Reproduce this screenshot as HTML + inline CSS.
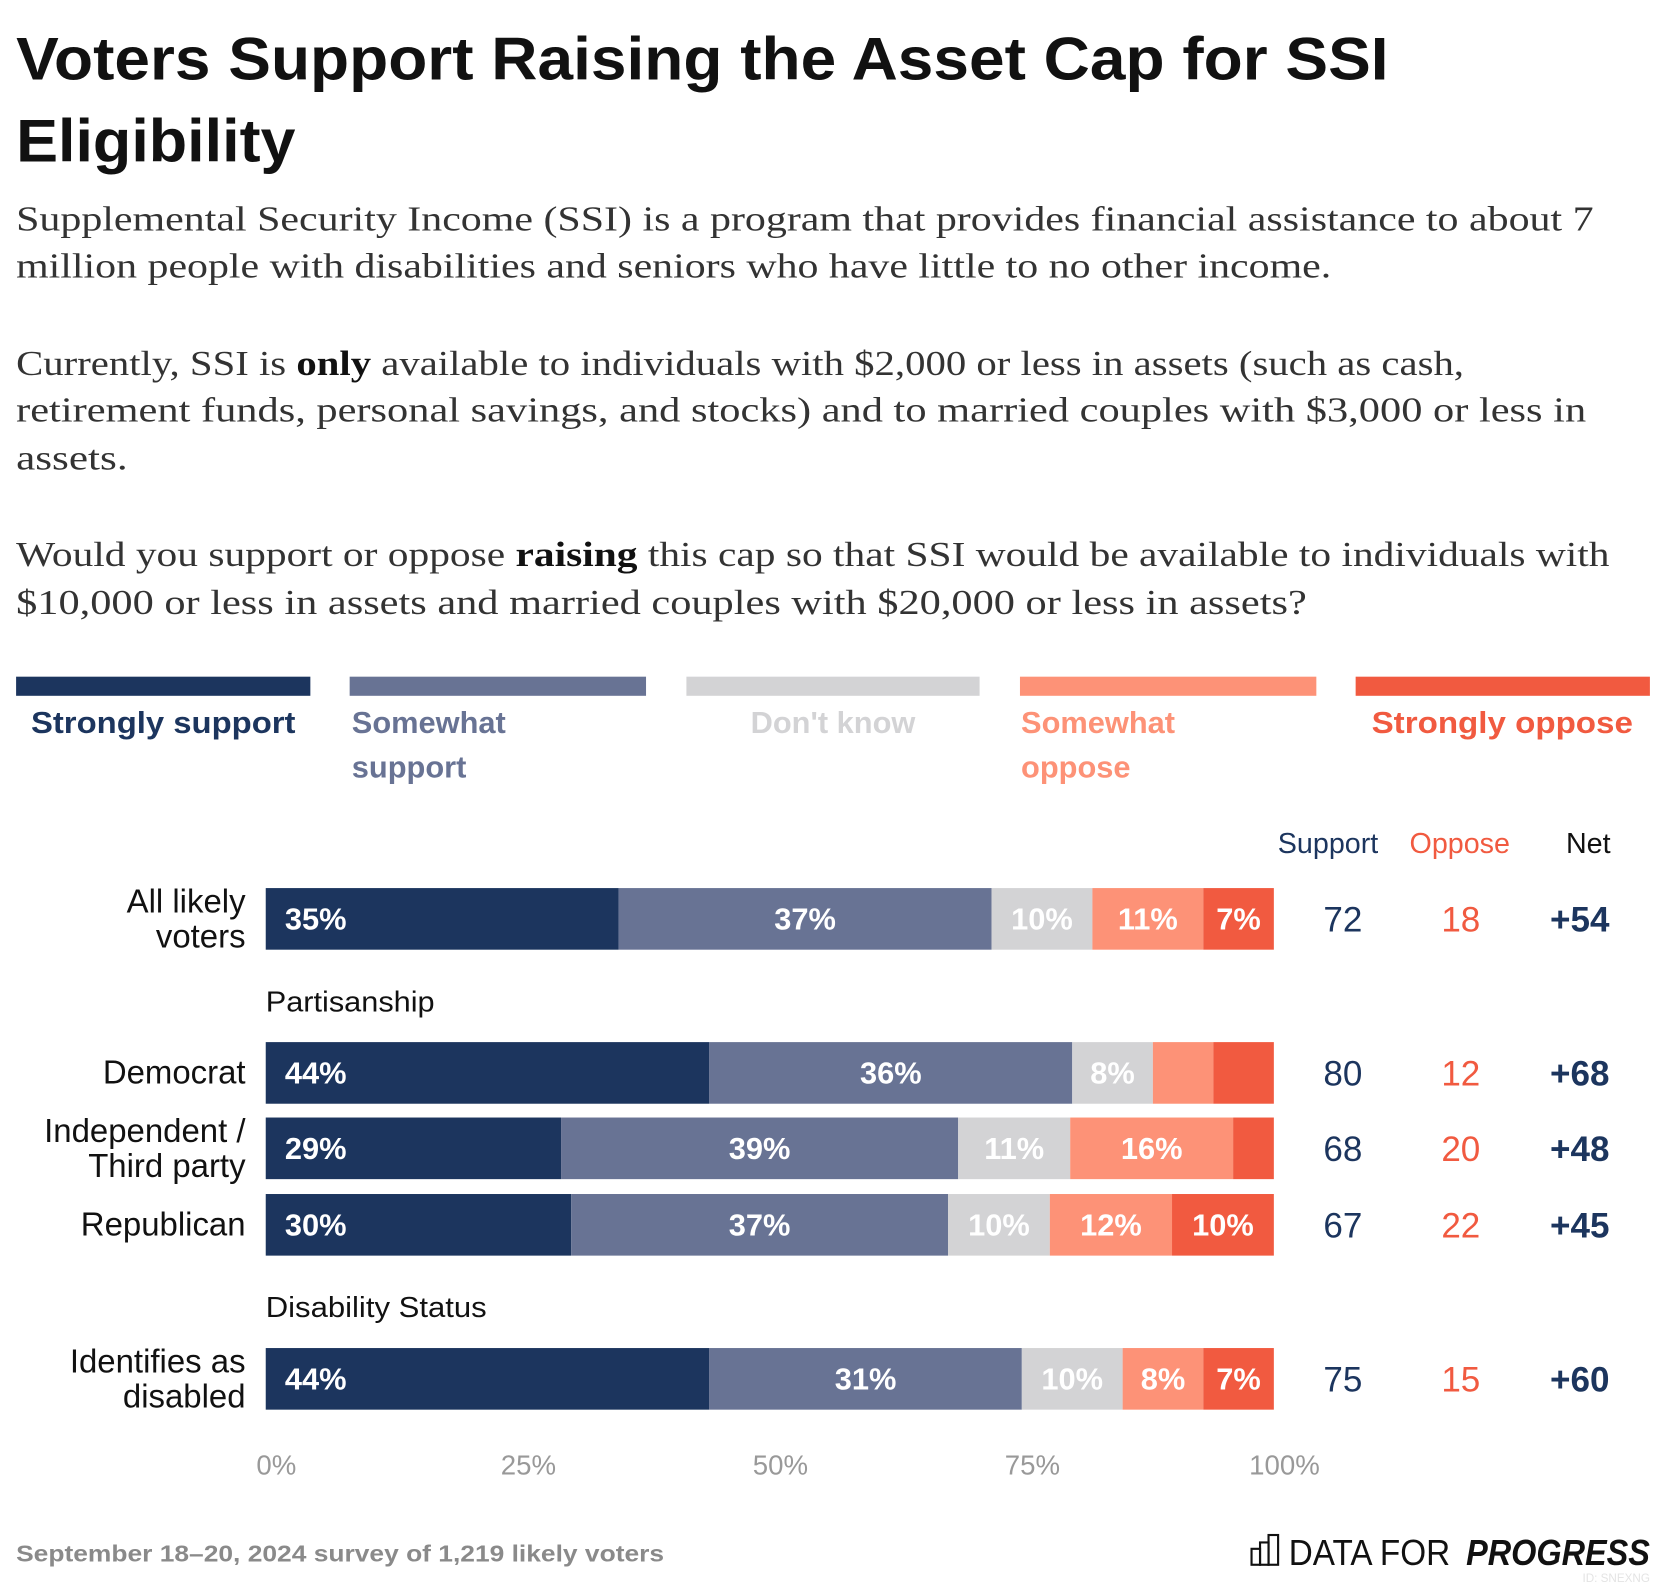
<!DOCTYPE html>
<html><head><meta charset="utf-8"><style>
html,body{margin:0;padding:0;background:#fff;}
svg{display:block;}
</style></head><body>
<svg width="1666" height="1586" viewBox="0 0 1568 1493" xmlns="http://www.w3.org/2000/svg" font-family="'Liberation Sans', sans-serif">
<rect width="1568" height="1493" fill="#fff"/>
<g font-weight="bold" font-size="57" fill="#111">
<text x="15" y="75" textLength="1292" lengthAdjust="spacingAndGlyphs">Voters Support Raising the Asset Cap for SSI</text>
<text x="15" y="152" textLength="263" lengthAdjust="spacingAndGlyphs">Eligibility</text>
</g>
<g font-family="'Liberation Serif', serif" font-size="33" fill="#333">
<text x="15" y="217" textLength="1485" lengthAdjust="spacingAndGlyphs">Supplemental Security Income (SSI) is a program that provides financial assistance to about 7</text>
<text x="15" y="261" textLength="1238" lengthAdjust="spacingAndGlyphs">million people with disabilities and seniors who have little to no other income.</text>
<text x="15" y="353" textLength="1363" lengthAdjust="spacingAndGlyphs">Currently, SSI is <tspan font-weight="bold" fill="#111">only</tspan> available to individuals with $2,000 or less in assets (such as cash,</text>
<text x="15" y="397" textLength="1478" lengthAdjust="spacingAndGlyphs">retirement funds, personal savings, and stocks) and to married couples with $3,000 or less in</text>
<text x="15" y="442" textLength="105" lengthAdjust="spacingAndGlyphs">assets.</text>
<text x="15" y="533" textLength="1500" lengthAdjust="spacingAndGlyphs">Would you support or oppose <tspan font-weight="bold" fill="#111">raising</tspan> this cap so that SSI would be available to individuals with</text>
<text x="15" y="578" textLength="1215" lengthAdjust="spacingAndGlyphs">$10,000 or less in assets and married couples with $20,000 or less in assets?</text>
</g>
<g font-weight="bold" font-size="29">
<rect x="15" y="637" width="277" height="18" fill="#1c355e"/>
<rect x="329" y="637" width="279" height="18" fill="#687394"/>
<rect x="646" y="637" width="276" height="18" fill="#d3d3d5"/>
<rect x="960" y="637" width="279" height="18" fill="#fd9277"/>
<rect x="1276" y="637" width="277" height="18" fill="#f15a40"/>
<text x="29" y="690" fill="#1c355e" textLength="249" lengthAdjust="spacingAndGlyphs">Strongly support</text>
<text x="331" y="690" fill="#687394"><tspan x="331">Somewhat</tspan><tspan x="331" dy="42">support</tspan></text>
<text x="784" y="690" text-anchor="middle" fill="#d3d3d5">Don't know</text>
<text x="961" y="690" fill="#fd9277"><tspan x="961">Somewhat</tspan><tspan x="961" dy="42">oppose</tspan></text>
<text x="1291" y="690" fill="#f15a40" textLength="246" lengthAdjust="spacingAndGlyphs">Strongly oppose</text>
</g>
<g font-size="27">
<text x="1250" y="803" text-anchor="middle" fill="#1c355e">Support</text>
<text x="1374" y="803" text-anchor="middle" fill="#f15a40">Oppose</text>
<text x="1495" y="803" text-anchor="middle" fill="#111">Net</text>
<text x="250" y="952" fill="#111" textLength="159" lengthAdjust="spacingAndGlyphs">Partisanship</text>
<text x="250" y="1240" fill="#111" textLength="208" lengthAdjust="spacingAndGlyphs">Disability Status</text>
</g>
<g id="bars"></g>
<g id="axis"></g>
<text x="15" y="1470" font-size="22" font-weight="bold" fill="#8a8a8a" textLength="610" lengthAdjust="spacingAndGlyphs">September 18–20, 2024 survey of 1,219 likely voters</text>
<g>
<g fill="none" stroke="#111" stroke-width="2">
<rect x="1178" y="1458" width="8" height="15"/><rect x="1186" y="1452" width="8" height="21"/><rect x="1194" y="1445" width="9" height="28"/>
</g>
<text x="1213" y="1473" font-size="34" fill="#111" textLength="152" lengthAdjust="spacingAndGlyphs">DATA FOR</text>
<text x="1380" y="1473" font-size="34" font-weight="bold" font-style="italic" fill="#111" textLength="173" lengthAdjust="spacingAndGlyphs">PROGRESS</text>
<text x="1553" y="1489" font-size="11" fill="#e4e4e4" text-anchor="end">ID: SNEXNG</text>
</g>
<script>
const rowLabels = [["All likely","voters"],["Democrat"],["Independent /","Third party"],["Republican"],["Identifies as","disabled"]];
const strongSupport = [35,44,29,30,44];
const someSupport = [37,36,39,37,31];
const dontKnow = [10,8,11,10,10];
const someOppose = [11,6,16,12,8];
const strongOppose = [7,6,4,10,7];
const supportTotals = [72,80,68,67,75];
const opposeTotals = [18,12,20,22,15];
const netValues = ["+54","+68","+48","+45","+60"];
const tickValues = [0,25,50,75,100];
const tickLabels = ["0%","25%","50%","75%","100%"];
const rowTops = [836,981,1052,1124,1269];

const NS = "http://www.w3.org/2000/svg";
const X0 = 250, W = 949, BH = 58;
const xScale = p => X0 + p / 100 * W;
const colors = ["#1c355e","#687394","#d3d3d5","#fd9277","#f15a40"];
const segNames = ["strongly-support","somewhat-support","dont-know","somewhat-oppose","strongly-oppose"];
const series = [strongSupport, someSupport, dontKnow, someOppose, strongOppose];
function mk(tag, attrs){const e=document.createElementNS(NS,tag);for(const k in attrs)e.setAttribute(k,attrs[k]);return e;}
const gb = document.getElementById("bars");
rowLabels.forEach((lab,i)=>{
  const y = rowTops[i];
  const total = series.reduce((s,a)=>s+a[i],0);
  let cum = 0;
  series.forEach((arr,j)=>{
    const v = arr[i];
    const x1 = xScale(cum/total*100), x2 = xScale((cum+v)/total*100);
    const r = mk("rect",{x:x1,y:y,width:x2-x1,height:BH,fill:colors[j]});
    
    
    gb.appendChild(r);
    if (v >= 7) {
      const t = mk("text",{y:y+BH/2+10,"font-size":29,"font-weight":"bold",fill:"#fff"});
      if (j===0){t.setAttribute("x",x1+18);} else {t.setAttribute("x",(x1+x2)/2);t.setAttribute("text-anchor","middle");}
      t.textContent = v+"%";
      
      
      gb.appendChild(t);
    }
    cum += v;
  });
  const lt = mk("text",{x:231,"text-anchor":"end","font-size":31,fill:"#111"});
  
  
  if (lab.length===1){ lt.setAttribute("y",y+BH/2+10); lt.textContent=lab[0]; }
  else { lab.forEach((s,k)=>{const ts=mk("tspan",{x:231,y:y+BH/2-6+k*33});ts.textContent=s;lt.appendChild(ts);}); }
  gb.appendChild(lt);
  const cy = y+BH/2+12;
  const s = mk("text",{x:1264,y:cy,"text-anchor":"middle","font-size":33,fill:"#1c355e"}); s.textContent=supportTotals[i];
  
  
  gb.appendChild(s);
  const o = mk("text",{x:1375,y:cy,"text-anchor":"middle","font-size":33,fill:"#f15a40"}); o.textContent=opposeTotals[i];
  
  
  gb.appendChild(o);
  const n = mk("text",{x:1487,y:cy,"text-anchor":"middle","font-size":33,"font-weight":"bold",fill:"#1c355e"}); n.textContent=netValues[i];
  
  
  gb.appendChild(n);
});
const ga = document.getElementById("axis");
tickValues.forEach((v,i)=>{
  const t = mk("text",{x:xScale(v)+10,y:1388,"text-anchor":"middle","font-size":26,fill:"#999"});
  t.textContent = tickLabels[i];
  
  
  ga.appendChild(t);
});
</script>
</svg>
</body></html>
